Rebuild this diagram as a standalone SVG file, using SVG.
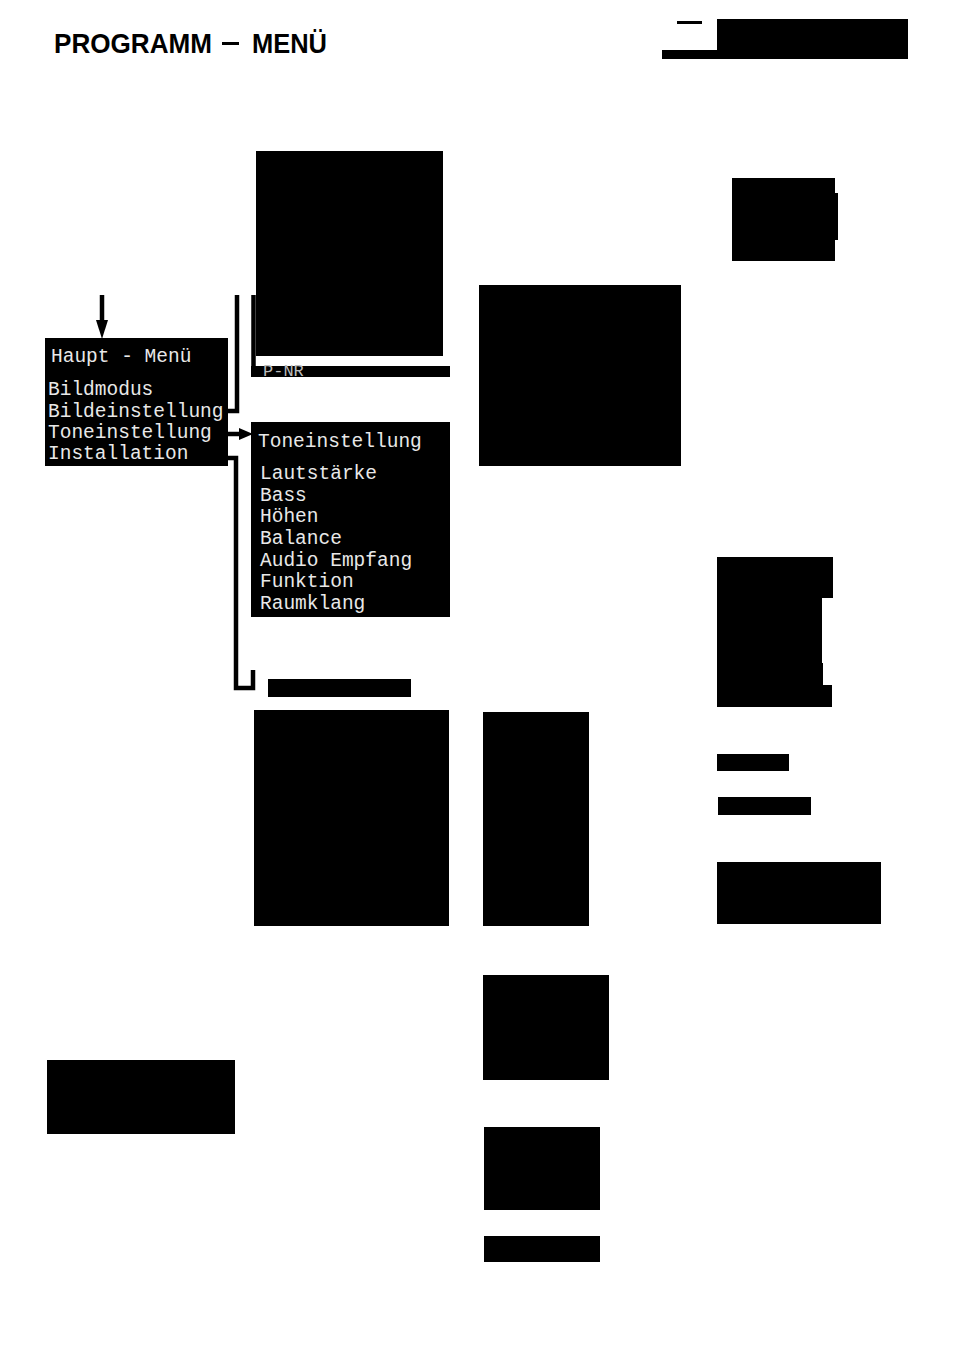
<svg xmlns="http://www.w3.org/2000/svg" width="954" height="1351" viewBox="0 0 954 1351">
<style>
.blk{fill:#000}
.mono{font-family:"Liberation Mono","DejaVu Sans Mono",monospace;font-size:19.5px;fill:#e8e8e8}
.title{font-family:"Liberation Sans",Arial,sans-serif;font-weight:bold;font-size:28px;fill:#000}
.ln{stroke:#000;stroke-width:4.5;fill:none}
</style>
<rect width="954" height="1351" fill="#fff"/>
<g id="title">
<text class="title" x="54" y="53" textLength="158" lengthAdjust="spacingAndGlyphs">PROGRAMM</text>
<rect x="222" y="42" width="17" height="3" class="blk"/>
<text class="title" x="252" y="53" textLength="75" lengthAdjust="spacingAndGlyphs">MENÜ</text>
</g>
<g id="header-right">
<rect x="717" y="19" width="191" height="40" class="blk"/>
<rect x="662" y="50" width="56" height="9" class="blk"/>
<rect x="677" y="21" width="25" height="3" class="blk"/>
</g>
<g id="connectors">
<line class="ln" x1="102" y1="295" x2="102" y2="324"/>
<polygon points="96,320 108,320 102,339" class="blk"/>
<polyline class="ln" points="228,411 237,411 237,295"/>
<line class="ln" x1="228" y1="434" x2="244" y2="434"/>
<polygon points="239,428 253,434 239,440" class="blk"/>
<polyline class="ln" points="228,458 236,458 236,688 253,688 253,670"/>
<line class="ln" x1="253.5" y1="295" x2="253.5" y2="377"/>
</g>
<g id="main-menu">
<rect x="45" y="338" width="183" height="128" class="blk"/>
<text class="mono" x="51" y="362">Haupt - Menü</text>
<text class="mono" x="48" y="395">Bildmodus</text>
<text class="mono" x="48" y="417">Bildeinstellung</text>
<text class="mono" x="48" y="438">Toneinstellung</text>
<text class="mono" x="48" y="459">Installation</text>
</g>
<g id="bild-menu">
<rect x="256" y="151" width="187" height="205" class="blk"/>
<rect x="251" y="366" width="199" height="11" class="blk"/>
<text class="mono" x="263" y="376" style="fill:#bbb;font-size:17px">P-NR</text>
</g>
<g id="ton-menu">
<rect x="251" y="422" width="199" height="195" class="blk"/>
<text class="mono" x="258" y="447">Toneinstellung</text>
<text class="mono" x="260" y="479">Lautstärke</text>
<text class="mono" x="260" y="501">Bass</text>
<text class="mono" x="260" y="522">Höhen</text>
<text class="mono" x="260" y="544">Balance</text>
<text class="mono" x="260" y="566">Audio Empfang</text>
<text class="mono" x="260" y="587">Funktion</text>
<text class="mono" x="260" y="609">Raumklang</text>
</g>
<g id="install-title"><rect x="268" y="679" width="143" height="18" class="blk"/></g>
<g id="install-menu"><rect x="254" y="710" width="195" height="216" class="blk"/></g>
<g id="box-479"><rect x="479" y="285" width="202" height="181" class="blk"/></g>
<g id="box-732">
<rect x="732" y="178" width="103" height="83" class="blk"/>
<rect x="834" y="193" width="4" height="47" class="blk"/>
</g>
<g id="box-717">
<polygon points="717,557 833,557 833,598 822,598 822,663 823,663 823,685 832,685 832,707 717,707" class="blk"/>
</g>
<g id="box-754"><rect x="717" y="754" width="72" height="17" class="blk"/></g>
<g id="box-797"><rect x="718" y="797" width="93" height="18" class="blk"/></g>
<g id="box-862"><rect x="717" y="862" width="164" height="62" class="blk"/></g>
<g id="box-483a"><rect x="483" y="712" width="106" height="214" class="blk"/></g>
<g id="box-483b"><rect x="483" y="975" width="126" height="105" class="blk"/></g>
<g id="box-484c"><rect x="484" y="1127" width="116" height="83" class="blk"/></g>
<g id="box-484d"><rect x="484" y="1236" width="116" height="26" class="blk"/></g>
<g id="box-47"><rect x="47" y="1060" width="188" height="74" class="blk"/></g>
</svg>
